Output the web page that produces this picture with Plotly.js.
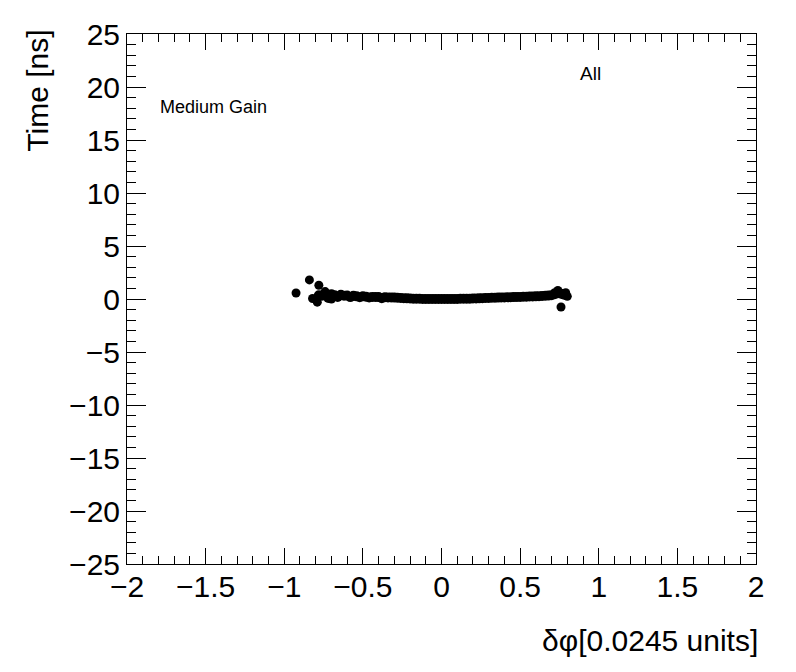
<!DOCTYPE html>
<html>
<head>
<meta charset="utf-8">
<script src="https://cdn.plot.ly/plotly-3.0.1.min.js"></script>
<style>html,body{margin:0;padding:0;background:#fff;}#chart{width:796px;height:672px;}</style>
</head>
<body>
<div id="chart"></div>
<script>
// Main band of points: δφ vs Time
const dphi = [-0.78,-0.76,-0.74,-0.72,-0.70,-0.68,-0.66,-0.64,-0.62,-0.60,-0.58,-0.56,-0.54,-0.52,-0.50,-0.48,-0.46,-0.44,-0.42,-0.40,-0.38,-0.36,-0.34,-0.32,-0.30,-0.28,-0.26,-0.24,-0.22,-0.20,-0.18,-0.16,-0.14,-0.12,-0.10,-0.08,-0.06,-0.04,-0.02,0.00,0.02,0.04,0.06,0.08,0.10,0.12,0.14,0.16,0.18,0.20,0.22,0.24,0.26,0.28,0.30,0.32,0.34,0.36,0.38,0.40,0.42,0.44,0.46,0.48,0.50,0.52,0.54,0.56,0.58,0.60,0.62,0.64,0.66,0.68,0.70,0.72,0.74,0.76,0.78];
const time = [0.35,0.30,0.55,0.10,0.45,0.35,0.20,0.40,0.30,0.32,0.18,0.30,0.25,0.17,0.25,0.22,0.14,0.20,0.20,0.18,0.07,0.16,0.15,0.14,0.13,0.12,0.10,0.08,0.06,0.05,0.03,0.02,0.02,0.01,0.00,0.00,0.00,0.00,0.00,0.00,0.00,0.00,0.00,0.01,0.01,0.02,0.02,0.03,0.03,0.04,0.05,0.06,0.08,0.09,0.10,0.11,0.12,0.13,0.14,0.15,0.16,0.17,0.18,0.19,0.20,0.21,0.22,0.23,0.24,0.25,0.27,0.28,0.30,0.32,0.35,0.45,0.55,0.50,0.40];
// Scattered outlier points
const outX = [-0.925,-0.84,-0.78,-0.82,-0.79,0.76,0.72,0.79,0.80,-0.74,-0.70,0.74];
const outY = [0.57,1.80,1.30,0.05,-0.30,-0.75,0.60,0.60,0.25,0.70,0.00,0.80];

const xTickVals = [-2,-1.5,-1,-0.5,0,0.5,1,1.5,2];
const xTickText = ['\u22122','\u22121.5','\u22121','\u22120.5','0','0.5','1','1.5','2'];
const yTickVals = [-25,-20,-15,-10,-5,0,5,10,15,20,25];
const yTickText = ['\u221225','\u221220','\u221215','\u221210','\u22125','0','5','10','15','20','25'];

const marker = {symbol:'circle', size:10, color:'black', line:{width:0}};
const traces = [
  {x:dphi, y:time, type:'scatter', mode:'markers', marker:marker, hoverinfo:'skip'},
  {x:outX, y:outY, type:'scatter', mode:'markers', marker:{symbol:'circle', size:9, color:'black', line:{width:0}}, hoverinfo:'skip'}
];

const font = 'Liberation Sans, Arial, Helvetica, sans-serif';
const layout = {
  width:796, height:672,
  margin:{l:127, r:40, t:34, b:108, pad:0},
  paper_bgcolor:'white', plot_bgcolor:'white',
  showlegend:false,
  font:{family:font, color:'black'},
  xaxis:{
    range:[-2,2], showgrid:false, zeroline:false,
    showline:true, linecolor:'black', linewidth:1, mirror:'allticks',
    ticks:'inside', ticklen:16, tickwidth:1, tickcolor:'black',
    tickvals:xTickVals, ticktext:xTickText, ticklabelstandoff:-4,
    tickfont:{family:font, size:30, color:'black'},
    minor:{dtick:0.1, tick0:0, ticks:'inside', ticklen:8, tickwidth:1, tickcolor:'black'}
  },
  yaxis:{
    range:[-25,25], showgrid:false, zeroline:false,
    showline:true, linecolor:'black', linewidth:1, mirror:'allticks',
    ticks:'inside', ticklen:19, tickwidth:1, tickcolor:'black',
    tickvals:yTickVals, ticktext:yTickText,
    tickfont:{family:font, size:30, color:'black'},
    minor:{dtick:1, tick0:0, ticks:'inside', ticklen:9, tickwidth:1, tickcolor:'black'}
  },
  annotations:[
    {text:'Time [ns]', xref:'paper', yref:'paper', x:-0.1415, y:1.012, xanchor:'center', yanchor:'top', textangle:-90, showarrow:false, font:{family:font, size:30, color:'black'}},
    {text:'\u03b4\u03c6[0.0245 units]', xref:'paper', yref:'paper', x:1.007, y:-0.11, xanchor:'right', yanchor:'top', showarrow:false, font:{family:font, size:30, color:'black'}},
    {text:'Medium Gain', xref:'paper', yref:'paper', x:0.05, y:0.862, xanchor:'left', yanchor:'middle', showarrow:false, font:{family:font, size:18, color:'black'}},
    {text:'All', xref:'paper', yref:'paper', x:0.717, y:0.925, xanchor:'left', yanchor:'middle', showarrow:false, font:{family:font, size:19, color:'black'}}
  ]
};

Plotly.newPlot('chart', traces, layout, {staticPlot:true, displayModeBar:false});
</script>
</body>
</html>
